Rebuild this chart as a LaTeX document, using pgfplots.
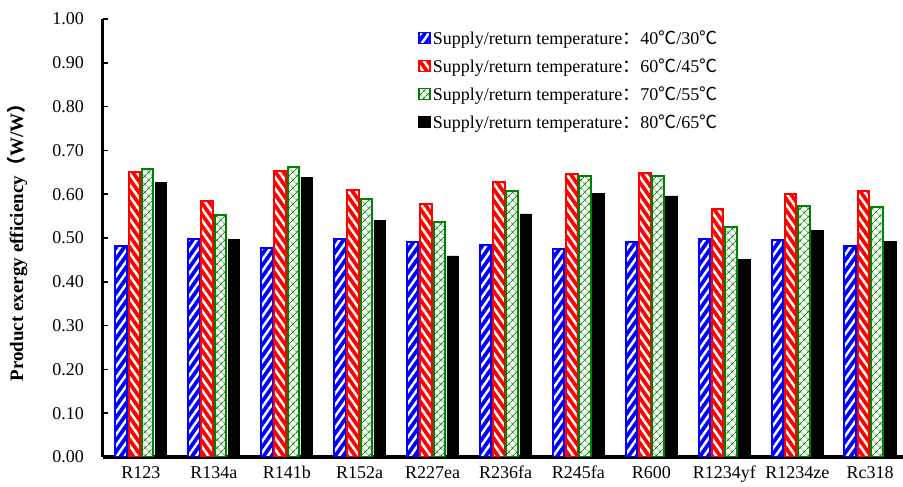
\documentclass[border=0pt]{standalone}
\usepackage{fontspec}
\setmainfont{Liberation Serif}
\newfontfamily\cjk{Noto Sans CJK SC}
\usepackage{pgfplots}
\pgfplotsset{compat=1.18}
\usetikzlibrary{patterns.meta}
\definecolor{xlgreen}{RGB}{0,128,0}
\definecolor{xlblue}{RGB}{0,0,255}
\definecolor{xlred}{RGB}{255,0,0}
\pgfplotsset{sqleg/.style={legend image code/.code={\draw[##1,line width=1.5bp] (0bp,-4.5bp) rectangle (11bp,6.5bp);}}}
\begin{document}
\fontsize{18bp}{22bp}\selectfont
\begin{tikzpicture}
\begin{axis}[name=ax, scale only axis, width=800bp, height=438bp,
  ybar=1.8bp, bar width=11.5bp,
  xmin=-0.52, xmax=10.45, ymin=0, ymax=1,
  xtick={0,1,2,3,4,5,6,7,8,9,10},
  xticklabels={R123,R134a,R141b,R152a,R227ea,R236fa,R245fa,R600,R1234yf,R1234ze,Rc318},
  ytick={0,0.1,0.2,0.3,0.4,0.5,0.6,0.7,0.8,0.9,1.0},
  axis x line=bottom, axis y line=left,
  axis line style={-, line width=3bp, black},
  tick align=inside, major tick length=5bp,
  ytick style={line width=1.5bp, black},
  xtick style={draw=none},
  yticklabel style={font=\fontsize{18bp}{22bp}\selectfont, xshift=-13bp},
  xticklabel style={font=\fontsize{18bp}{22bp}\selectfont, yshift=-3bp},
  /pgf/number format/assume math mode=true,
  yticklabel={\pgfmathprintnumber[fixed,fixed zerofill,precision=2]{\tick}},
  ylabel={\textbf{Product exergy efficiency{\cjk （}W/W{\cjk ）}}},
  every axis y label/.style={at={(rel axis cs:0,0.5)}, xshift=-86bp, rotate=90, anchor=center, font=\fontsize{19bp}{22bp}\selectfont},
  legend style={at={(rel axis cs:0.394,0.978)}, anchor=north west, draw=none, fill=none,
    font=\fontsize{18bp}{22bp}\selectfont, row sep=7.5bp, inner sep=0pt},
  legend cell align=left,
]
\addplot[draw=xlblue, line width=2bp, fill=xlblue, postaction={pattern={Lines[angle=55,distance=6.5bp,line width=2.5bp]}, pattern color=white}, sqleg] coordinates {
(0,0.482) (1,0.497) (2,0.478) (3,0.498) (4,0.492) (5,0.483) (6,0.475) (7,0.492) (8,0.497) (9,0.495) (10,0.482)};
\addplot[draw=xlred, line width=2bp, fill=xlred, postaction={pattern={Lines[angle=-55,distance=6.5bp,line width=2.5bp]}, pattern color=white}, sqleg] coordinates {
(0,0.651) (1,0.585) (2,0.654) (3,0.610) (4,0.578) (5,0.627) (6,0.645) (7,0.648) (8,0.566) (9,0.600) (10,0.608)};
\addplot[draw=xlgreen, line width=2bp, fill=white, postaction={pattern={Hatch[angle=45,distance=6bp,line width=0.8bp]}, pattern color=xlgreen}, sqleg] coordinates {
(0,0.657) (1,0.553) (2,0.663) (3,0.588) (4,0.536) (5,0.608) (6,0.642) (7,0.642) (8,0.524) (9,0.572) (10,0.571)};
\addplot[draw=black, fill=black, line width=0.5bp, sqleg] coordinates {
(0,0.627) (1,0.497) (2,0.638) (3,0.541) (4,0.459) (5,0.555) (6,0.602) (7,0.596) (8,0.451) (9,0.517) (10,0.492)};
\legend{Supply/return temperature{\cjk ：}40{\cjk ℃}/30{\cjk ℃},
Supply/return temperature{\cjk ：}60{\cjk ℃}/45{\cjk ℃},
Supply/return temperature{\cjk ：}70{\cjk ℃}/55{\cjk ℃},
Supply/return temperature{\cjk ：}80{\cjk ℃}/65{\cjk ℃}}
\end{axis}
\pgfresetboundingbox
\path[use as bounding box] (ax.south west) ++(-103bp,-30bp) rectangle ++(903bp,487bp);
\end{tikzpicture}
\end{document}
